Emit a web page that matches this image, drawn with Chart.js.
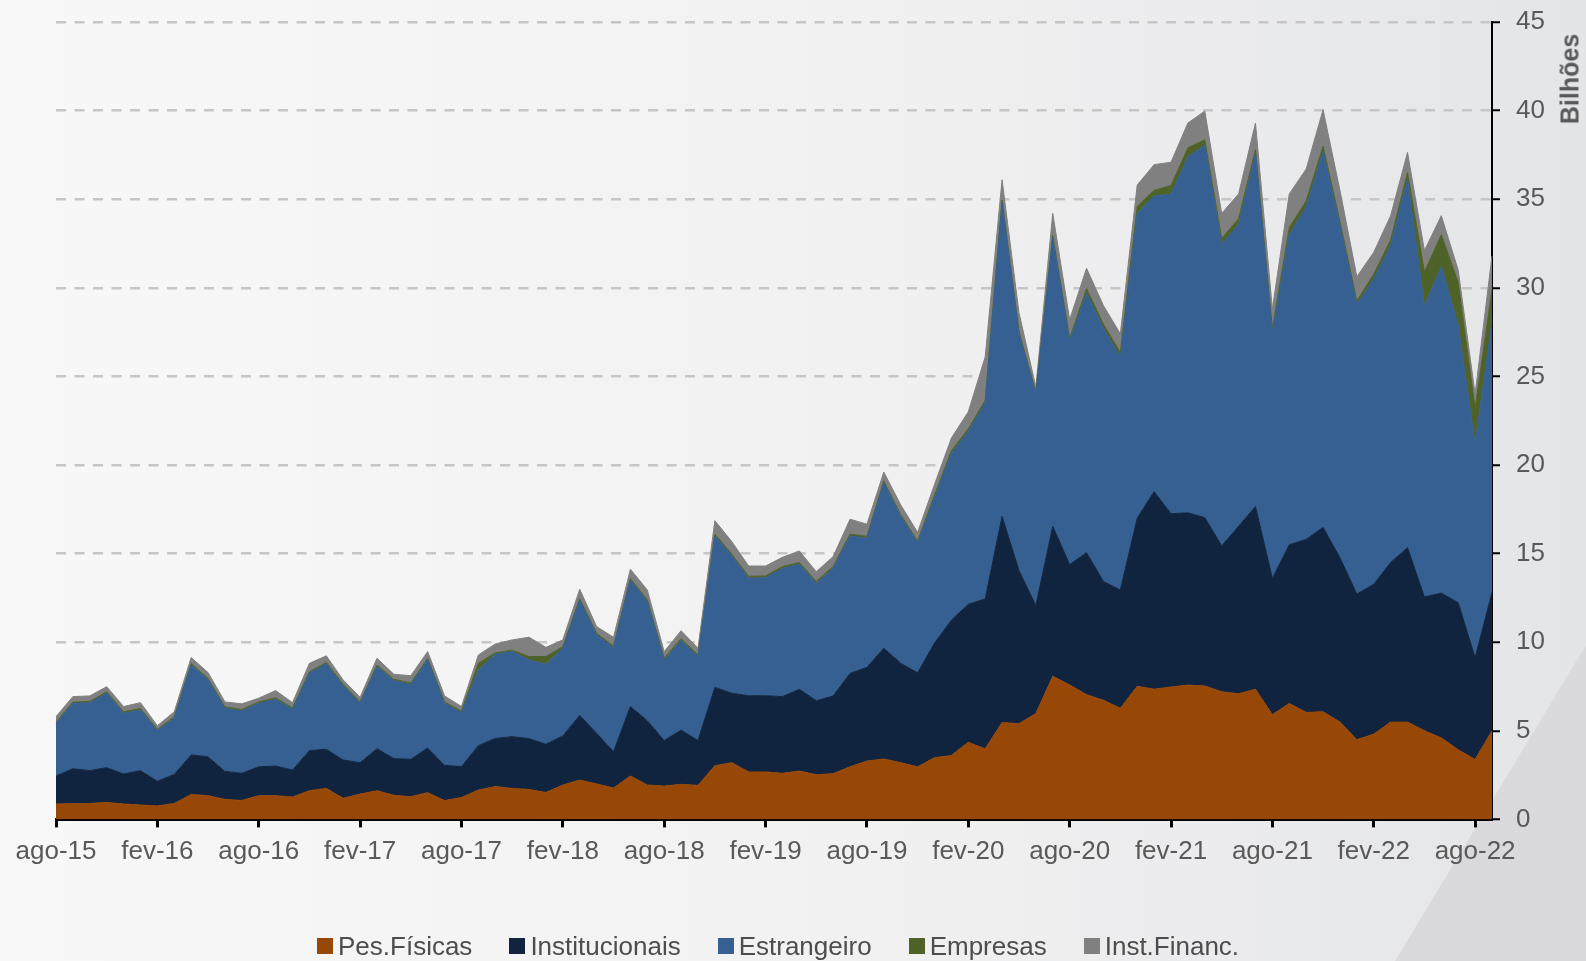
<!DOCTYPE html>
<html>
<head>
<meta charset="utf-8">
<script src="https://cdn.jsdelivr.net/npm/chart.js@4.4.1/dist/chart.umd.min.js"></script>
<style>
  html, body { margin: 0; padding: 0; }
  body {
    width: 1586px; height: 961px; position: relative; overflow: hidden;
    background: linear-gradient(90deg, #f8f8f8 0%, #f1f1f2 55%, #e4e5e7 100%);
    font-family: "Liberation Sans", Arial, sans-serif;
  }
  .canto {
    position: absolute; left: 0; top: 0; width: 1586px; height: 961px;
    background: linear-gradient(160deg, #e0e0e2, #d9d9db);
    clip-path: polygon(1586px 645px, 1586px 961px, 1395px 961px);
  }
  #grafico { position: absolute; left: 0; top: 0; }
  .titulo-y {
    position: absolute; left: 1570px; top: 79px;
    transform: translate(-50%, -50%) rotate(-90deg);
    font-weight: bold; font-size: 25px; color: #595959; white-space: nowrap;
  }
  .legenda {
    position: absolute; left: 317px; top: 931px; height: 30px;
    display: flex; align-items: center; gap: 37px;
    font-size: 26px; color: #4d4d4d; white-space: nowrap;
  }
  .legenda span { display: flex; align-items: center; }
  .legenda i { display: inline-block; width: 16px; height: 16px; margin-right: 5px; }
</style>
</head>
<body>
<div class="canto"></div>
<canvas id="grafico" width="1586" height="961"></canvas>
<div class="titulo-y">Bilhões</div>
<div class="legenda" id="legenda"></div>

<script>
// meses ago-15 .. set-22
const nomesMes = ["jan", "fev", "mar", "abr", "mai", "jun", "jul", "ago", "set", "out", "nov", "dez"];
const meses = [];
for (let a = 2015, m = 7; a < 2022 || m <= 8; m++) {
  if (m > 11) { m = 0; a++; }
  meses.push(nomesMes[m] + "-" + String(a).slice(2));
}

const yTicks = [0, 5, 10, 15, 20, 25, 30, 35, 40, 45];

// valores em bilhões
const pesFisicas = [
  0.87, 0.89, 0.90, 0.96, 0.87, 0.81, 0.76, 0.90, 1.41, 1.34,
  1.13, 1.07, 1.34, 1.34, 1.26, 1.62, 1.75, 1.19, 1.43, 1.62,
  1.36, 1.28, 1.51, 1.06, 1.23, 1.66, 1.85, 1.75, 1.69, 1.52,
  1.94, 2.22, 2.00, 1.77, 2.45, 1.94, 1.88, 1.98, 1.92, 3.03,
  3.20, 2.68, 2.68, 2.60, 2.73, 2.52, 2.58, 2.97, 3.29, 3.41,
  3.20, 2.97, 3.48, 3.61, 4.35, 3.98, 5.47, 5.40, 5.97, 8.08,
  7.59, 7.04, 6.72, 6.27, 7.51, 7.35, 7.47, 7.58, 7.53, 7.20,
  7.09, 7.34, 5.91, 6.54, 6.04, 6.07, 5.49, 4.50, 4.81, 5.49,
  5.49, 5.00, 4.60, 3.93, 3.38, 5.00
];
const institucionais = [
  1.58, 1.97, 1.85, 1.96, 1.69, 1.94, 1.39, 1.64, 2.23, 2.19,
  1.58, 1.53, 1.63, 1.67, 1.53, 2.26, 2.21, 2.16, 1.77, 2.37,
  2.07, 2.11, 2.52, 1.99, 1.75, 2.50, 2.72, 2.92, 2.87, 2.72,
  2.77, 3.65, 2.86, 2.05, 3.92, 3.63, 2.57, 3.06, 2.53, 4.42,
  3.92, 4.30, 4.30, 4.33, 4.61, 4.18, 4.38, 5.27, 5.29, 6.25,
  5.61, 5.30, 6.47, 7.63, 7.79, 8.46, 11.63, 8.65, 6.09, 8.46,
  6.79, 8.01, 6.71, 6.67, 9.49, 11.15, 9.78, 9.72, 9.50, 8.24,
  9.45, 10.32, 7.69, 8.96, 9.76, 10.41, 9.28, 8.22, 8.46, 9.01,
  9.84, 7.55, 8.17, 8.30, 5.74, 7.80
];
const estrangeiro = [
  2.97, 3.69, 3.84, 4.20, 3.43, 3.43, 2.86, 3.17, 5.08, 4.34,
  3.56, 3.52, 3.58, 3.77, 3.42, 4.37, 4.82, 4.19, 3.35, 4.63,
  4.40, 4.23, 4.97, 3.50, 3.04, 4.27, 4.75, 4.80, 4.44, 4.51,
  4.95, 6.48, 5.55, 5.87, 7.15, 6.72, 4.55, 5.05, 4.74, 8.55,
  7.75, 6.63, 6.66, 7.24, 7.06, 6.63, 7.21, 7.76, 7.29, 9.34,
  8.29, 7.33, 8.21, 9.41, 9.76, 11.06, 17.70, 13.35, 11.94, 16.26,
  12.62, 14.65, 14.27, 13.16, 17.20, 16.70, 18.02, 20.10, 21.02, 17.03,
  17.03, 19.94, 13.90, 17.50, 18.76, 21.22, 18.73, 16.35, 17.23, 17.90,
  20.80, 16.43, 18.43, 15.67, 12.08, 15.30
];
const empresas = [
  0.08, 0.07, 0.07, 0.08, 0.08, 0.08, 0.07, 0.08, 0.08, 0.08,
  0.08, 0.08, 0.08, 0.08, 0.08, 0.08, 0.08, 0.08, 0.08, 0.08,
  0.08, 0.08, 0.08, 0.08, 0.08, 0.38, 0.08, 0.08, 0.19, 0.44,
  0.09, 0.10, 0.09, 0.09, 0.08, 0.11, 0.10, 0.11, 0.09, 0.10,
  0.10, 0.11, 0.10, 0.10, 0.10, 0.10, 0.10, 0.10, 0.10, 0.10,
  0.10, 0.10, 0.14, 0.15, 0.15, 0.15, 0.15, 0.15, 0.10, 0.15,
  0.15, 0.25, 0.25, 0.25, 0.40, 0.30, 0.50, 0.50, 0.30, 0.33,
  0.33, 0.20, 0.20, 0.40, 0.34, 0.30, 0.25, 0.19, 0.27, 0.30,
  0.37, 1.92, 1.80, 2.40, 2.00, 1.80
];
const instFinanc = [
  0.30, 0.31, 0.31, 0.29, 0.30, 0.33, 0.21, 0.28, 0.33, 0.34,
  0.28, 0.32, 0.21, 0.41, 0.30, 0.48, 0.37, 0.25, 0.26, 0.39,
  0.28, 0.41, 0.39, 0.34, 0.27, 0.47, 0.50, 0.58, 1.09, 0.52,
  0.38, 0.54, 0.38, 0.50, 0.52, 0.55, 0.37, 0.45, 0.38, 0.76,
  0.71, 0.58, 0.56, 0.52, 0.65, 0.55, 0.56, 0.84, 0.69, 0.50,
  0.55, 0.50, 0.60, 0.72, 0.95, 2.45, 1.15, 1.05, 0.30, 1.25,
  1.05, 1.15, 1.05, 1.05, 1.20, 1.45, 1.32, 1.40, 1.62, 1.40,
  1.40, 1.50, 1.10, 1.90, 1.80, 2.05, 1.75, 1.37, 1.23, 1.37,
  1.14, 1.20, 1.07, 0.70, 0.80, 1.90
];

const series = [
  { nome: "Pes.Físicas", dados: pesFisicas, cor: "#974706" },
  { nome: "Institucionais", dados: institucionais, cor: "#10243f" },
  { nome: "Estrangeiro", dados: estrangeiro, cor: "#366092" },
  { nome: "Empresas", dados: empresas, cor: "#4f6228" },
  { nome: "Inst.Financ.", dados: instFinanc, cor: "#808080" }
];

const fonte = "'Liberation Sans', Arial, sans-serif";
const corTexto = "#595959";

const ctx = document.getElementById("grafico");
const grafico = new Chart(ctx, {
  type: "line",
  data: {
    labels: meses,
    datasets: series.map(function (s, i) {
      return {
        label: s.nome,
        data: s.dados,
        backgroundColor: s.cor,
        borderColor: s.cor,
        borderWidth: 1,
        pointRadius: 0,
        tension: 0,
        fill: i === 0 ? "origin" : "-1"
      };
    })
  },
  options: {
    responsive: false,
    animation: false,
    devicePixelRatio: 1,
    layout: {
      padding: { left: 56, top: 22, right: 0, bottom: 0 }
    },
    plugins: {
      legend: { display: false },
      tooltip: { enabled: false }
    },
    scales: {
      x: {
        offset: false,
        grid: {
          display: true,
          drawOnChartArea: false,
          drawTicks: true,
          tickLength: 8,
          tickWidth: 3,
          tickColor: function (c) {
            return c.index % 6 === 0 ? "#000" : "rgba(0,0,0,0)";
          }
        },
        border: { color: "#000", width: 3 },
        ticks: {
          autoSkip: false,
          maxRotation: 0,
          minRotation: 0,
          padding: 9,
          color: corTexto,
          font: { size: 26, family: fonte },
          callback: function (val, i) {
            return i % 6 === 0 ? this.getLabelForValue(val) : "";
          }
        },
        afterFit: function (scale) {
          scale.height = 961 - 819.4;
        }
      },
      y: {
        position: "right",
        stacked: true,
        min: 0,
        max: 45,
        afterBuildTicks: function (scale) {
          scale.ticks = yTicks.map(function (v) { return { value: v }; });
        },
        grid: {
          color: function (c) {
            return c.tick && c.tick.value === 0 ? "rgba(0,0,0,0)" : "#c6c6c6";
          },
          lineWidth: 2.5,
          tickLength: 8,
          tickWidth: 2,
          tickColor: "#000"
        },
        border: { color: "#000", width: 2, dash: [10, 8.5] },
        ticks: {
          padding: 16,
          color: corTexto,
          font: { size: 26, family: fonte }
        },
        afterFit: function (scale) {
          scale.width = 1586 - 1492;
          scale.paddingTop = 0;
          scale.paddingBottom = 0;
        }
      }
    }
  }
});

// legenda
const leg = document.getElementById("legenda");
series.forEach(function (s) {
  const item = document.createElement("span");
  item.innerHTML = '<i style="background:' + s.cor + '"></i>' + s.nome;
  leg.appendChild(item);
});
</script>
</body>
</html>
